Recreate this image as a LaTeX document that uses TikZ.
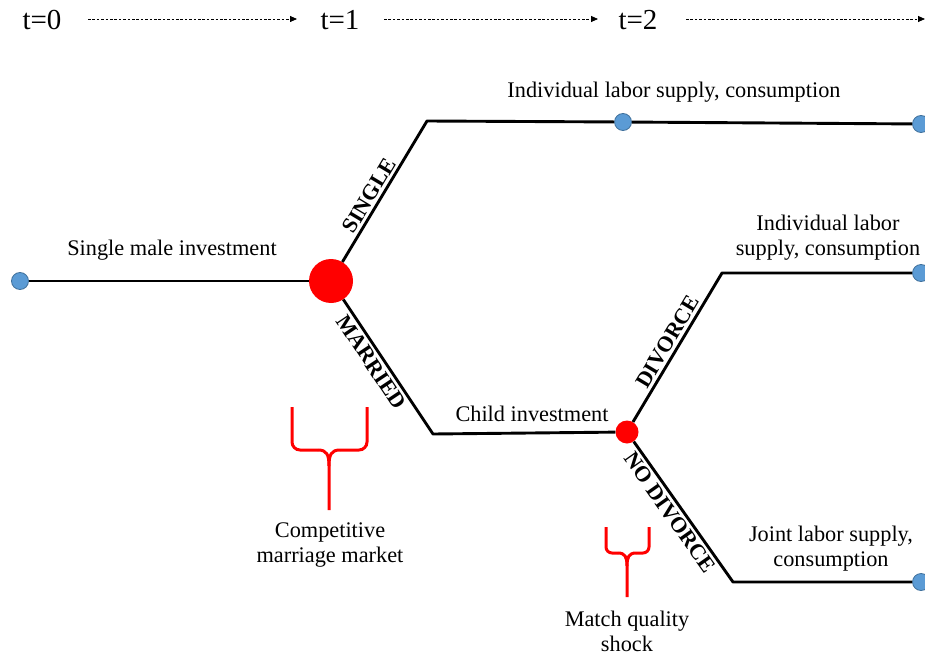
\documentclass[tikz,border=0pt]{standalone}
\usepackage{fontspec}
\setmainfont{Liberation Serif}
\usetikzlibrary{arrows.meta}
\definecolor{dotblue}{RGB}{91,155,213}
\definecolor{dotedge}{RGB}{65,113,156}
\definecolor{bred}{RGB}{255,0,0}
\begin{document}
\begin{tikzpicture}[x=1pt,y=-1pt,
  edge/.style={line width=2.9pt, line join=round},
  bluedot/.style={circle, fill=dotblue, draw=dotedge, line width=0.8pt, minimum size=17pt, inner sep=0pt},
  reddot/.style={circle, fill=bred, inner sep=0pt},
  lbl/.style={font=\fontsize{22.3}{25}\selectfont, align=center},
  brlbl/.style={font=\bfseries\fontsize{22}{24}\selectfont, sloped, inner sep=2.5pt},
  hdr/.style={font=\fontsize{29}{32}\selectfont},
  tarrow/.style={line width=0.8pt, dash pattern=on 2.6pt off 1.8pt, -{Triangle[length=7pt,width=6pt]}},
  brace/.style={draw=bred, line width=3pt, line cap=butt}
]
\useasboundingbox (0,0) rectangle (925,655);
% header
\node[hdr] (t0) at (42,20) {t=0};
\node[hdr] (t1) at (340,20) {t=1};
\node[hdr] (t2) at (638,20) {t=2};
\coordinate (a0s) at (88,19);  \coordinate (a0e) at (297,19);
\coordinate (a1s) at (384,19); \coordinate (a1e) at (598,19);
\coordinate (a2s) at (686,19); \coordinate (a2e) at (925,19);
\draw[tarrow] (a0s) -- (a0e);
\draw[tarrow] (a1s) -- (a1e);
\draw[tarrow] (a2s) -- (a2e);
% nodes
\node[bluedot] (ld) at (20,281) {};
\node[reddot, minimum size=44pt] (m0) at (331,281) {};
\coordinate (s1) at (427,121);
\node[bluedot] (sd) at (623,122) {};
\node[bluedot] (sr) at (921,124) {};
\coordinate (c1) at (433,434);
\node[reddot, minimum size=23pt] (m1) at (627,432) {};
\coordinate (d1) at (722,273);
\node[bluedot] (dr) at (921,273) {};
\coordinate (n1) at (733,582);
\node[bluedot] (nr) at (921,582) {};
% edges
\draw[edge] (ld) -- (m0);
\draw[edge] (m0) -- node[brlbl, above, pos=0.43] {SINGLE} (s1) -- (sd) -- (sr);
\draw[edge] (m0) -- node[brlbl, below, pos=0.42] {MARRIED} (c1) -- (m1);
\draw[edge] (m1) -- node[brlbl, above, pos=0.5] {DIVORCE} (d1) -- (dr);
\draw[edge] (m1) -- node[brlbl, below, pos=0.46] {NO DIVORCE} (n1) -- (nr);
% labels
\node[lbl] (l1) at (172,250) {Single male investment};
\node[lbl] (l2) at (674,92) {Individual labor supply, consumption};
\node[lbl] (l3) at (828,238) {Individual labor\\supply, consumption};
\node[lbl] (l4) at (532,414) {Child investment};
\node[lbl] (l5) at (831,549) {Joint labor supply,\\consumption};
\node[lbl] (l6) at (330,545) {Competitive\\marriage market};
\node[lbl] (l7) at (627,631) {Match quality\\shock};
% braces
\draw[brace, rounded corners=8pt] (292,407) -- (292,450) -- (318,450);
\draw[brace] (318,450) .. controls (327,450) and (329,455) .. (329,466) -- (329,510);
\draw[brace, rounded corners=8pt] (367,407) -- (367,450) -- (340,450);
\draw[brace] (340,450) .. controls (331,450) and (329,455) .. (329,466);
\draw[brace, rounded corners=6pt] (606,527) -- (606,553) -- (618,553);
\draw[brace] (618,553) .. controls (625,553) and (627,557) .. (627,566) -- (627,597);
\draw[brace, rounded corners=6pt] (649,527) -- (649,553) -- (636,553);
\draw[brace] (636,553) .. controls (629,553) and (627,557) .. (627,566);
\end{tikzpicture}
\end{document}
